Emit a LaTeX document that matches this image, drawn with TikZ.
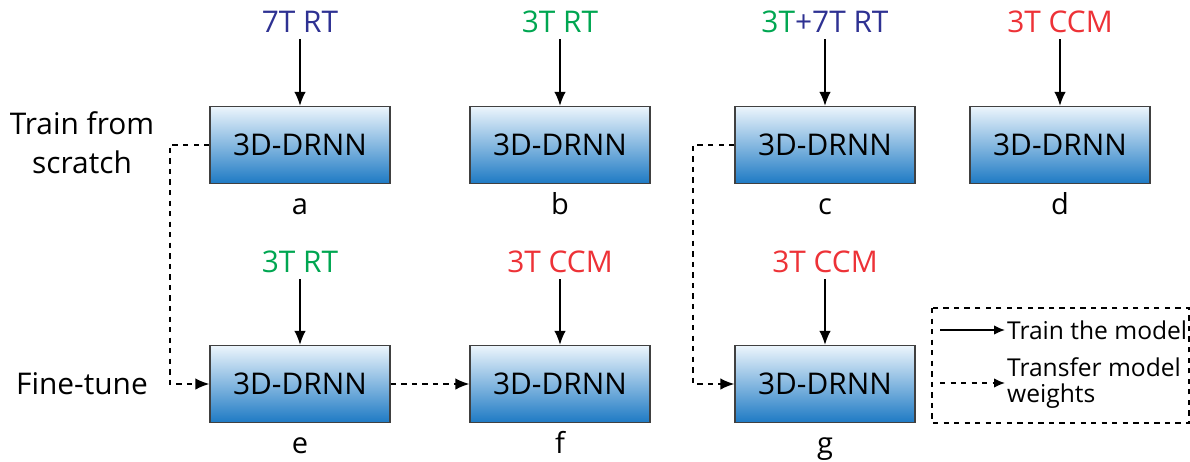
\documentclass[tikz,border=0pt]{standalone}
\usepackage{fontspec}
\setmainfont{Open Sans}
\usetikzlibrary{positioning,arrows.meta}
\definecolor{rtblue}{RGB}{46,49,146}
\definecolor{rtgreen}{RGB}{0,166,81}
\definecolor{ccmred}{RGB}{237,50,55}
\definecolor{boxtop}{RGB}{236,245,252}
\definecolor{boxbot}{RGB}{30,122,196}
\tikzset{>={Latex[length=2.8mm,width=2.3mm]}}
\tikzset{
  netbox/.style = {draw=black!75, thick, top color=boxtop, bottom color=boxbot,
    minimum width=3.6cm, minimum height=1.54cm, inner sep=0pt,
    font=\fontsize{17}{20}\selectfont},
  datalbl/.style = {font=\fontsize{17}{20}\selectfont},
  sublbl/.style = {font=\fontsize{16.5}{20}\selectfont, inner sep=0pt},
  sidelbl/.style = {font=\fontsize{17}{22}\selectfont, align=center},
  legtext/.style = {font=\fontsize{14}{15}\selectfont, align=left, anchor=west, inner sep=1pt},
  train/.style = {->, thick},
  transfer/.style = {->, thick, dashed},
  legarrow/.style = {>={Latex[length=2.2mm,width=1.9mm]}}
}
\begin{document}
\begin{tikzpicture}[x=0.02cm,y=-0.02cm]
  \useasboundingbox (0,0) rectangle (1190,461);
  % boxes
  \node[netbox] (a) at (300,145) {3D-DRNN};
  \node[netbox] (b) at (560,145) {3D-DRNN};
  \node[netbox] (c) at (825,145) {3D-DRNN};
  \node[netbox] (d) at (1060,145) {3D-DRNN};
  \node[netbox] (e) at (300,384) {3D-DRNN};
  \node[netbox] (f) at (560,384) {3D-DRNN};
  \node[netbox] (g) at (825,384) {3D-DRNN};
  % data
  \node[datalbl,rtblue] (da) at (300,22) {7T RT};
  \node[datalbl,rtgreen] (db) at (560,22) {3T RT};
  \node[datalbl] (dc) at (825,22) {\textcolor{rtgreen}{3T}\textcolor{rtblue}{+7T RT}};
  \node[datalbl,ccmred] (dd) at (1060,22) {3T CCM};
  \node[datalbl,rtgreen] (de) at (300,262) {3T RT};
  \node[datalbl,ccmred] (df) at (560,262) {3T CCM};
  \node[datalbl,ccmred] (dg) at (825,262) {3T CCM};
  \foreach \n in {a,b,c,d,e,f,g}
    \draw[train] (d\n) -- (\n);
  % letters
  \foreach \n in {a,b,c,d,e,f,g}
    \node[sublbl,below=0.6cm of \n,anchor=base] (l\n) {\n};
  % rows
  \node[sidelbl] (scratch) at (82,143) {Train from\\scratch};
  \node[sidelbl] (tune) at (82,384) {Fine-tune};
  % transfers
  \coordinate (ta) at (170,145);
  \coordinate (tc) at (693,145);
  \draw[transfer] (a.west) -- (ta) |- (e.west);
  \draw[transfer] (e) -- (f);
  \draw[transfer] (c.west) -- (tc) |- (g.west);
  % legend
  \draw[dashed,thick] (932,308) rectangle (1189,423);
  \coordinate (s1) at (940,330);
  \coordinate (s2) at (940,383);
  \node[legtext] (t1) at (1005,330) {Train the model};
  \node[legtext] (t2) at (1005,383) {Transfer model\\weights};
  \draw[train,legarrow] (s1) -- (t1.west);
  \draw[transfer,legarrow] (s2) -- (t2.west);
\end{tikzpicture}
\end{document}
